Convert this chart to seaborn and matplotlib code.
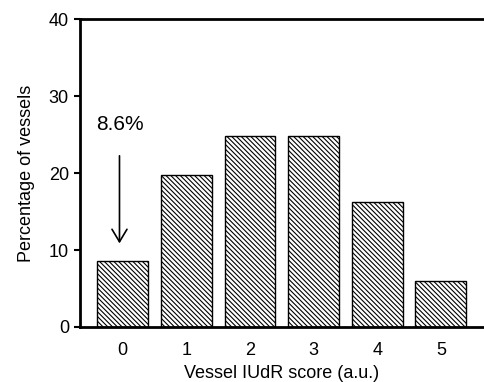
import numpy as np
import pandas as pd
import seaborn as sns
from matplotlib import pyplot as plt

scores = ["0", "1", "2", "3", "4", "5"]
pct_vessels = [8.6, 19.7, 24.8, 24.8, 16.2, 6.0]
callout_text = "8.6%"

sns.set_style("ticks")
plt.rcParams['font.family'] = ['Liberation Sans', 'DejaVu Sans']
plt.rcParams['hatch.linewidth'] = 0.8
plt.rcParams['axes.edgecolor'] = 'black'
plt.rcParams['text.color'] = 'black'
plt.rcParams['axes.labelcolor'] = 'black'
plt.rcParams['xtick.color'] = 'black'
plt.rcParams['ytick.color'] = 'black'

df = pd.DataFrame({"score": scores, "pct": pct_vessels})

fig = plt.figure(figsize=(4.85, 3.82), dpi=100)
ax = fig.add_axes([0.165, 0.144, 0.832, 0.806])
sns.barplot(data=df, x="score", y="pct", color="white", edgecolor="black",
            linewidth=1.0, width=0.8, hatch="\\\\\\\\\\\\\\", ax=ax)

ax.set_ylim(0, 40)
ax.set_xlim(-0.67, 5.67)
ax.set_yticks([0, 10, 20, 30, 40])
ax.tick_params(axis="y", direction="out", length=4, width=1.5, labelsize=13, pad=4)
ax.tick_params(axis="x", length=0, labelsize=13, pad=11)
for s in ["left", "bottom", "top"]:
    ax.spines[s].set_linewidth(2)
ax.spines["right"].set_visible(False)

ax.set_xlabel("Vessel IUdR score (a.u.)", fontsize=13, labelpad=4)
ax.set_ylabel("Percentage of vessels", fontsize=13, labelpad=10)

ax.annotate("", xy=(-0.05, 10.5), xytext=(-0.05, 22.6),
            arrowprops=dict(arrowstyle="->,head_length=0.5,head_width=0.3",
                            color="black", lw=1.2, mutation_scale=18))
ax.text(-0.05, 26.3, callout_text, ha="center", va="center", fontsize=15)

plt.savefig("out.png", dpi=100)
